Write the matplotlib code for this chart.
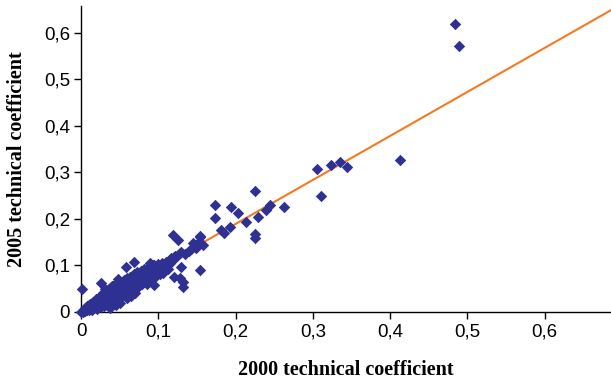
import matplotlib
matplotlib.use('Agg')
import matplotlib.pyplot as plt
from matplotlib.ticker import FuncFormatter

plt.rcParams['font.family'] = ['Liberation Sans', 'DejaVu Sans']

# 2000 vs 2005 technical coefficients
x2000 = [0.0, 0.002, 0.004, 0.005, 0.006, 0.008, 0.01, 0.01, 0.012, 0.013,
         0.015, 0.015, 0.017, 0.018, 0.02, 0.02, 0.02, 0.022, 0.024, 0.025,
         0.025, 0.027, 0.028, 0.03, 0.03, 0.032, 0.033, 0.034, 0.035, 0.036,
         0.038, 0.038, 0.04, 0.04, 0.042, 0.043, 0.044, 0.045, 0.046, 0.047,
         0.048, 0.05, 0.05, 0.052, 0.053, 0.055, 0.055, 0.057, 0.058, 0.06,
         0.06, 0.062, 0.063, 0.065, 0.066, 0.067, 0.068, 0.07, 0.07, 0.072,
         0.074, 0.075, 0.076, 0.078, 0.08, 0.08, 0.082, 0.084, 0.085, 0.087,
         0.088, 0.09, 0.092, 0.093, 0.095, 0.096, 0.098, 0.1, 0.1, 0.103,
         0.105, 0.108,
         0.005, 0.008, 0.01, 0.012, 0.014, 0.016, 0.018, 0.02, 0.021, 0.023,
         0.025, 0.026, 0.027, 0.029, 0.03, 0.031, 0.033, 0.034, 0.036, 0.037,
         0.039, 0.041, 0.042, 0.044, 0.046, 0.048, 0.049, 0.051, 0.053, 0.054,
         0.056, 0.058, 0.059, 0.061, 0.063, 0.064, 0.066, 0.068, 0.069, 0.071,
         0.073, 0.075, 0.077, 0.079, 0.081, 0.083, 0.086, 0.088, 0.09, 0.092,
         0.095, 0.097, 0.1, 0.102, 0.105, 0.108, 0.11, 0.113,
         0.043, 0.047, 0.054, 0.064, 0.073, 0.083, 0.093, 0.016, 0.023, 0.033,
         0.001, 0.026, 0.031, 0.048, 0.058, 0.069, 0.04, 0.035, 0.045,
         0.037, 0.045, 0.05, 0.06, 0.065, 0.07, 0.072, 0.094, 0.089, 0.102,
         0.106, 0.085,
         0.112, 0.115, 0.117, 0.119, 0.12, 0.122, 0.125, 0.128, 0.13, 0.134,
         0.119, 0.125, 0.154, 0.145, 0.149, 0.158, 0.13, 0.154, 0.121, 0.132,
         0.128, 0.132, 0.14, 0.143, 0.147, 0.15,
         0.225, 0.174, 0.194, 0.203, 0.174, 0.214, 0.229, 0.24, 0.245, 0.263,
         0.193, 0.181, 0.185, 0.225, 0.225, 0.154,
         0.306, 0.323, 0.335, 0.344, 0.311, 0.413, 0.484, 0.489]
y2005 = [0.0, 0.001, 0.003, 0.002, 0.006, 0.005, 0.008, 0.004, 0.011, 0.007,
         0.013, 0.009, 0.016, 0.01, 0.018, 0.012, 0.022, 0.015, 0.02, 0.026,
         0.014, 0.022, 0.03, 0.025, 0.018, 0.033, 0.028, 0.022, 0.038, 0.031,
         0.026, 0.042, 0.035, 0.03, 0.045, 0.038, 0.032, 0.05, 0.04, 0.035,
         0.055, 0.045, 0.038, 0.05, 0.042, 0.058, 0.048, 0.053, 0.045, 0.06,
         0.05, 0.065, 0.055, 0.058, 0.07, 0.05, 0.062, 0.067, 0.075, 0.06,
         0.07, 0.08, 0.065, 0.073, 0.085, 0.069, 0.078, 0.09, 0.072, 0.083,
         0.095, 0.08, 0.088, 0.1, 0.075, 0.092, 0.085, 0.098, 0.088, 0.093,
         0.1, 0.095,
         0.008, 0.012, 0.015, 0.018, 0.004, 0.021, 0.024, 0.028, 0.007, 0.031,
         0.034, 0.01, 0.037, 0.04, 0.012, 0.043, 0.046, 0.016, 0.05, 0.019,
         0.053, 0.023, 0.056, 0.026, 0.059, 0.03, 0.062, 0.033, 0.065, 0.036,
         0.068, 0.04, 0.072, 0.043, 0.075, 0.046, 0.078, 0.05, 0.082, 0.053,
         0.085, 0.056, 0.088, 0.06, 0.092, 0.064, 0.095, 0.068, 0.098, 0.072,
         0.1, 0.077, 0.103, 0.082, 0.106, 0.088, 0.108, 0.093,
         0.043, 0.047, 0.052, 0.063, 0.075, 0.081, 0.092, 0.017, 0.026, 0.037,
         0.049, 0.062, 0.05, 0.07, 0.097, 0.108, 0.055, 0.045, 0.06,
         0.008, 0.015, 0.02, 0.03, 0.035, 0.04, 0.054, 0.058, 0.105, 0.094,
         0.083, 0.06,
         0.1, 0.105, 0.115, 0.112, 0.118, 0.12, 0.122, 0.126, 0.128, 0.125,
         0.165, 0.155, 0.162, 0.148, 0.137, 0.144, 0.097, 0.09, 0.076, 0.065,
         0.072, 0.054, 0.13, 0.135, 0.14, 0.145,
         0.26, 0.23, 0.226, 0.213, 0.201, 0.194, 0.205, 0.219, 0.23, 0.226,
         0.182, 0.175, 0.169, 0.168, 0.158, 0.164,
         0.307, 0.315, 0.323, 0.311, 0.249, 0.327, 0.619, 0.572]

slope = 0.945
x_max = 0.686
y_max = 0.657
ticks = [0, 0.1, 0.2, 0.3, 0.4, 0.5, 0.6]

fig = plt.figure(figsize=(6.11, 3.80), dpi=100)
ax = fig.add_axes([0.1326, 0.179, 0.8674, 0.805])

ax.plot([0, x_max], [0, slope * x_max], color='#F47A20', lw=1.5, zorder=2)
ax.scatter(x2000, y2005, marker='D', s=34, color='#2E3192', lw=0, zorder=3,
           clip_on=False)

ax.set_xlim(0, x_max)
ax.set_ylim(0, y_max)
ax.set_xticks(ticks)
ax.set_yticks(ticks)
fmt = FuncFormatter(lambda v, p: '0' if v == 0 else ('%.1f' % v).replace('.', ','))
ax.xaxis.set_major_formatter(fmt)
ax.yaxis.set_major_formatter(fmt)
ax.tick_params(labelsize=13.5, length=5, width=1, direction='out', pad=3)
for s in ['top', 'right']:
    ax.spines[s].set_visible(False)
for s in ['left', 'bottom']:
    ax.spines[s].set_linewidth(1)
    ax.spines[s].set_color('black')
    ax.spines[s].set_zorder(1)

ax.set_xlabel('2000 technical coefficient', family='Liberation Serif',
              fontweight='bold', fontsize=14.5, labelpad=14)
ax.set_ylabel('2005 technical coefficient', family='Liberation Serif',
              fontweight='bold', fontsize=14.5, labelpad=12)

fig.savefig('out.png', dpi=100)
